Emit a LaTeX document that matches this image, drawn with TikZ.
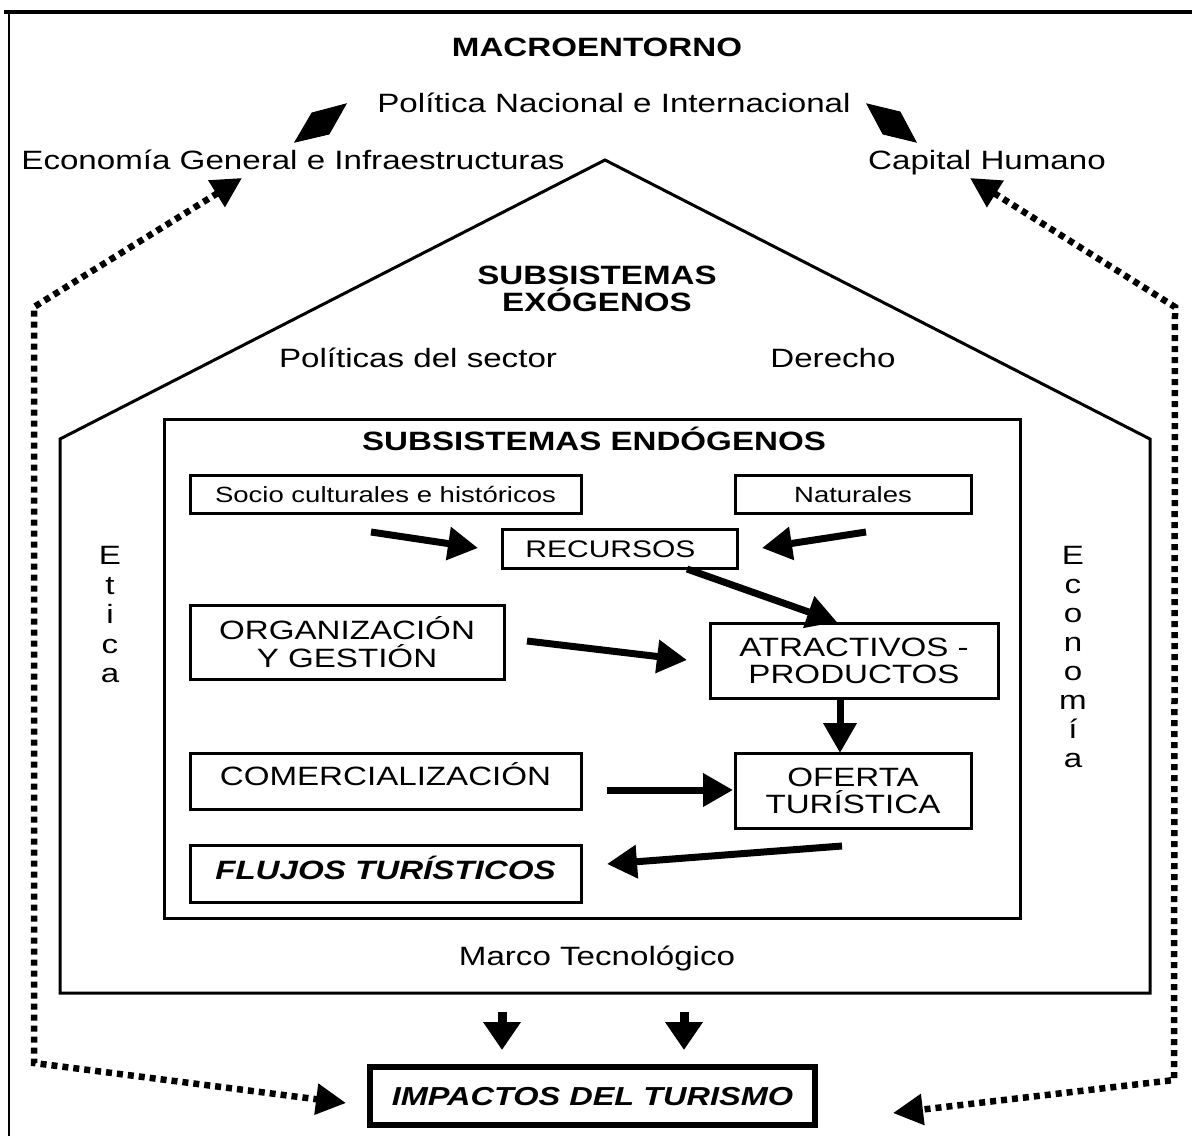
\documentclass[tikz,border=0pt]{standalone}
\usepackage{fontspec}
\setmainfont{Liberation Sans}[FakeStretch=1.25]
\usetikzlibrary{arrows.meta,calc}
\newcommand\mainfs{\fontsize{26.5}{28}\selectfont}
\newcommand\smallfs{\fontsize{22}{26}\selectfont}
\begin{document}
\begin{tikzpicture}[x=1pt,y=-1pt,
  txt/.style={inner sep=0pt, font=\mainfs, text height=19pt, text depth=0pt},
  btxt/.style={txt, font=\mainfs\bfseries},
  box/.style={draw, line width=3pt, inner sep=0pt, align=center, font=\mainfs},
  bigarrow/.style={line width=7pt, -{Triangle[length=30pt,width=32pt]}},
  downarrow/.style={line width=9pt, -{Triangle[length=28pt,width=36pt]}},
  dotarrow/.style={line width=6.5pt, dash pattern=on 6pt off 5pt,
     {Triangle[length=30pt,width=30pt]}-{Triangle[length=30pt,width=30pt]}},
  dblarrow/.style={fill=black, draw=black, line width=1pt, line join=miter}
]
\useasboundingbox (0,0) rectangle (1192,1136);
% frame
\draw[line width=4pt] (4,12) -- (1192,12);
\draw[line width=2pt] (9,12) -- (9,1136);

% macro environment texts
\node[btxt] (macro) at (597,47) {MACROENTORNO};
\node[txt] (polit) at (614,103) {Política Nacional e Internacional};
\node[txt] (econg) at (293,160) {Economía General e Infraestructuras};
\node[txt] (capital) at (987,160) {Capital Humano};

% house
\draw[line width=3pt, line join=miter] (605,160) -- (60,439) -- (60,993) -- (1150,993) -- (1150,439) -- cycle;
\node[btxt] (subex1) at (597,275) {SUBSISTEMAS};
\node[btxt] (subex2) at (597,302) {EXÓGENOS};
\node[txt] (polsec) at (418,358) {Políticas del sector};
\node[txt] (derecho) at (833,358) {Derecho};
\node[inner sep=0pt, font=\fontsize{26.5}{29.5}\selectfont, align=center] (etica) at (110,615) {E\\t\\i\\c\\a};
\node[inner sep=0pt, font=\fontsize{26.5}{28.9}\selectfont, align=center] (econom) at (1073,657) {E\\c\\o\\n\\o\\m\\í\\a};
\node[txt] (marco) at (597,956) {Marco Tecnológico};

% endogenous
\draw[line width=3pt] (164,419) rectangle (1020,918);
\node[btxt] (subend) at (594,441) {SUBSISTEMAS ENDÓGENOS};

\node[box, font=\smallfs, minimum width=391pt, minimum height=38pt, text height=16pt, text depth=0pt] (socio) at (385.5,494) {Socio culturales e históricos};
\node[box, font=\smallfs, minimum width=236pt, minimum height=38pt, text height=16pt, text depth=0pt] (natur) at (853,494) {Naturales};
\node[box, font=\fontsize{24}{28}\selectfont, minimum width=235pt, minimum height=39pt, text height=17pt, text depth=0pt] (recur) at (619.5,548.5) {\kern-18pt RECURSOS};
\node[box, font=\fontsize{26.5}{28}\selectfont, minimum width=314pt, minimum height=74pt] (org) at (347,642) {ORGANIZACIÓN\\Y GESTIÓN};
\node[box, font=\fontsize{26.5}{27}\selectfont, minimum width=288pt, minimum height=75pt] (atr) at (854,660.5) {ATRACTIVOS -\\PRODUCTOS};
\node[box, minimum width=391pt, minimum height=56pt, text height=19pt, text depth=10pt] (comerc) at (385.5,781) {COMERCIALIZACIÓN};
\node[box, font=\fontsize{26.5}{27}\selectfont, minimum width=236pt, minimum height=75pt] (oferta) at (853,790.5) {OFERTA\\TURÍSTICA};
\node[box, font=\mainfs\bfseries\itshape, minimum width=391pt, minimum height=57pt, text height=19pt, text depth=7pt] (flujos) at (385.5,873.5) {FLUJOS TURÍSTICOS};

\node[draw, line width=5.5pt, inner sep=0pt, font=\fontsize{26}{28}\selectfont\bfseries\itshape, minimum width=445pt, minimum height=58pt, text height=19pt, text depth=0pt] (impact) at (592.5,1096) {IMPACTOS DEL TURISMO};

% arrow end points
\coordinate (a1s) at (371,532); \coordinate (a1e) at (478,548);
\coordinate (a2s) at (866,532); \coordinate (a2e) at (762,548);
\coordinate (a3s) at (687,569); \coordinate (a3e) at (837,622);
\coordinate (a4s) at (527,641); \coordinate (a4e) at (687,660);
\coordinate (a5s) at (840,698); \coordinate (a5e) at (840,753);
\coordinate (a6s) at (607,790); \coordinate (a6e) at (733,790);
\coordinate (a7s) at (842,846); \coordinate (a7e) at (607,864);
\coordinate (b1s) at (502,1012); \coordinate (b1e) at (502,1050);
\coordinate (b2s) at (684,1012); \coordinate (b2e) at (684,1050);

\draw[bigarrow] (a1s) -- (a1e);
\draw[bigarrow] (a2s) -- (a2e);
\draw[bigarrow] (a3s) -- (a3e);
\draw[bigarrow] (a4s) -- (a4e);
\draw[bigarrow] (a5s) -- (a5e);
\draw[bigarrow] (a6s) -- (a6e);
\draw[bigarrow] (a7s) -- (a7e);
\draw[downarrow] (b1s) -- (b1e);
\draw[downarrow] (b2s) -- (b2e);

% top double arrows (solid rhombi)
\coordinate (d1a) at (295,142); \coordinate (d1b) at (346,104);
\coordinate (d1c) at (312,113); \coordinate (d1d) at (329,134);
\coordinate (d2a) at (867,104); \coordinate (d2b) at (916,142);
\coordinate (d2c) at (883,134); \coordinate (d2d) at (900,112);
\draw[dblarrow] (d1a) -- (d1c) -- (d1b) -- (d1d) -- cycle;
\draw[dblarrow] (d2a) -- (d2c) -- (d2b) -- (d2d) -- cycle;

% dotted arrows
\coordinate (l1) at (242,178); \coordinate (l2) at (34,307);
\coordinate (l3) at (34,1063); \coordinate (l4) at (346,1103);
\coordinate (r1) at (970,178); \coordinate (r2) at (1175,307);
\coordinate (r3) at (1174,1080); \coordinate (r4) at (893,1113);
\draw[dotarrow] (l1) -- (l2) -- (l3) -- (l4);
\draw[dotarrow] (r1) -- (r2) -- (r3) -- (r4);
\end{tikzpicture}
\end{document}
